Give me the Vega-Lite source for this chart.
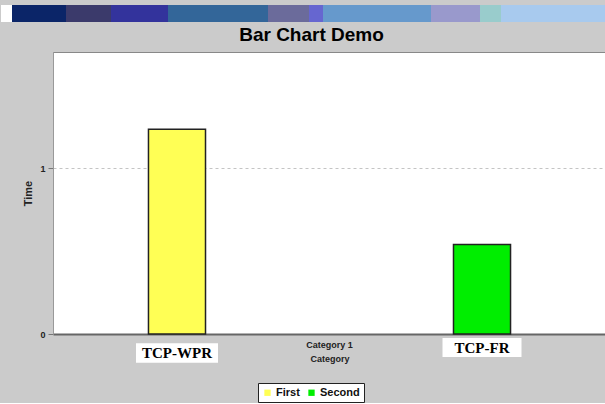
{
  "$schema": "https://vega.github.io/schema/vega-lite/v6.json",
  "background": "#cbcbcb",
  "padding": {"left": 0, "top": 5, "right": 0, "bottom": 0},
  "spacing": 3,
  "config": {"view": {"stroke": null}, "font": "Liberation Sans"},
  "resolve": {"scale": {"color": "independent"}, "legend": {"color": "independent"}},
  "datasets": {
    "titlebar": [
      {"segment": "s0", "start": 0, "end": 11},
      {"segment": "s1", "start": 11, "end": 65},
      {"segment": "s2", "start": 65, "end": 110},
      {"segment": "s3", "start": 110, "end": 167},
      {"segment": "s4", "start": 167, "end": 267},
      {"segment": "s5", "start": 267, "end": 308},
      {"segment": "s6", "start": 308, "end": 322},
      {"segment": "s7", "start": 322, "end": 430},
      {"segment": "s8", "start": 430, "end": 479},
      {"segment": "s9", "start": 479, "end": 500},
      {"segment": "s10", "start": 500, "end": 605}
    ],
    "bars": [
      {"category": "Category 1", "series": "First", "value": 1.235, "label": "TCP-WPR"},
      {"category": "Category 1", "series": "Second", "value": 0.54, "label": "TCP-FR"}
    ]
  },
  "vconcat": [
    {
      "data": {"name": "titlebar"},
      "width": 553,
      "height": 17,
      "mark": {"type": "rect", "clip": false},
      "encoding": {
        "x": {"field": "start", "type": "quantitative", "scale": {"domain": [52, 605], "nice": false, "zero": false}, "axis": null},
        "x2": {"field": "end"},
        "color": {
          "field": "segment",
          "type": "nominal",
          "scale": {
            "domain": ["s0", "s1", "s2", "s3", "s4", "s5", "s6", "s7", "s8", "s9", "s10"],
            "range": ["#ffffff", "#0b2568", "#3b3a6b", "#33339c", "#336699", "#6b6b9b", "#6666d0", "#6699cc", "#9999cc", "#99cccc", "#a8caee"]
          },
          "legend": null
        }
      }
    },
    {
      "data": {"name": "bars"},
      "width": 553,
      "height": 282,
      "view": {"fill": "white", "stroke": "#888888", "strokeWidth": 1},
      "title": {"text": "Bar Chart Demo", "fontSize": 19, "fontWeight": "bold", "color": "black", "anchor": "middle", "dx": -18, "offset": 7},
      "encoding": {
        "x": {
          "field": "category",
          "type": "nominal",
          "scale": {"paddingInner": 0, "paddingOuter": 0},
          "axis": {
            "title": "Category", "labelAngle": 0, "labelFontSize": 9, "labelFontWeight": "bold", "labelColor": "#222222",
            "titleFontSize": 9, "titleFontWeight": "bold", "titleColor": "#222222",
            "ticks": false, "tickSize": 0, "labelPadding": 6, "titlePadding": 5,
            "domainColor": "#666666", "domainWidth": 2
          }
        },
        "xOffset": {"field": "series", "type": "nominal", "scale": {"paddingInner": 0.813, "paddingOuter": 0.313}}
      },
      "layer": [
        {
          "mark": {"type": "bar", "stroke": "#222222", "strokeWidth": 1.5},
          "encoding": {
            "y": {
              "field": "value",
              "type": "quantitative",
              "scale": {"domain": [0, 1.7], "nice": false},
              "axis": {
                "values": [0, 1], "format": "d", "title": ["", "Time"], "titleLineHeight": 22,
                "titleFontSize": 11, "titleFontWeight": "bold", "titleColor": "#222222", "titlePadding": 6,
                "grid": true, "gridDash": [3, 3], "gridColor": "#c4c4c4",
                "labelFontSize": 9, "labelFontWeight": "bold", "labelColor": "#222222", "labelPadding": 3,
                "tickSize": 5, "tickColor": "#777777", "domainColor": "#999999"
              }
            },
            "color": {
              "field": "series",
              "type": "nominal",
              "scale": {"domain": ["First", "Second"], "range": ["#ffff55", "#00ee00"]},
              "legend": {
                "title": null, "orient": "none", "legendX": 205, "legendY": 331, "direction": "horizontal",
                "strokeColor": "#222222", "fillColor": "#ffffff", "padding": 4,
                "symbolType": "square", "symbolSize": 40, "symbolStrokeWidth": 0,
                "labelFontSize": 11, "labelFontWeight": "bold", "labelColor": "#111111", "labelOffset": 3, "columnPadding": 6
              }
            }
          }
        },
        {
          "transform": [{"filter": "datum.series === 'First'"}],
          "mark": {"type": "point", "shape": "M-1,-0.235H1V0.235H-1Z", "filled": true, "fill": "white", "opacity": 1, "strokeWidth": 0, "yOffset": 19},
          "encoding": {"y": {"datum": 0, "type": "quantitative"}, "size": {"value": 6724}}
        },
        {
          "transform": [{"filter": "datum.series === 'First'"}],
          "mark": {"type": "text", "font": "Liberation Serif", "fontWeight": "bold", "fontSize": 15, "color": "black", "baseline": "middle", "yOffset": 19},
          "encoding": {"y": {"datum": 0, "type": "quantitative"}, "text": {"field": "label"}}
        },
        {
          "transform": [{"filter": "datum.series === 'Second'"}],
          "mark": {"type": "point", "shape": "M-1,-0.24H1V0.24H-1Z", "filled": true, "fill": "white", "opacity": 1, "strokeWidth": 0, "yOffset": 13.5},
          "encoding": {"y": {"datum": 0, "type": "quantitative"}, "size": {"value": 6241}}
        },
        {
          "transform": [{"filter": "datum.series === 'Second'"}],
          "mark": {"type": "text", "font": "Liberation Serif", "fontWeight": "bold", "fontSize": 15, "color": "black", "baseline": "middle", "yOffset": 13.5},
          "encoding": {"y": {"datum": 0, "type": "quantitative"}, "text": {"field": "label"}}
        }
      ]
    }
  ]
}
